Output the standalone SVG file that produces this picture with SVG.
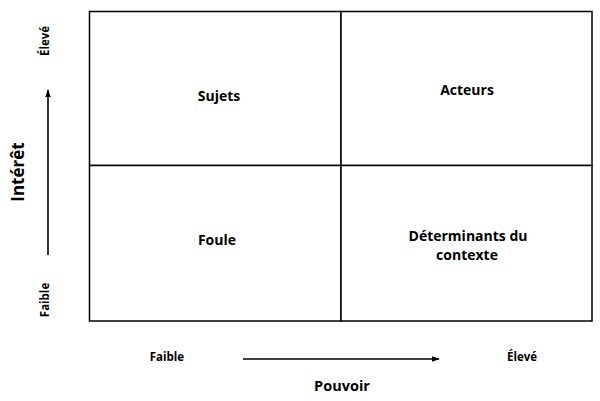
<svg xmlns="http://www.w3.org/2000/svg" width="600" height="401" viewBox="0 0 600 401">
<style>
text{font-family:"Open Sans","Noto Sans","DejaVu Sans",sans-serif;font-weight:bold;fill:#000;text-anchor:middle}
.lbl{font-size:14px}
.ax{font-size:11.5px}
.cell{fill:#fff;stroke:#000;stroke-width:1.5}
.arr{stroke:#000;stroke-width:1.6;fill:none;marker-end:url(#ah)}
</style>
<defs>
<marker id="ah" viewBox="0 0 10 10" refX="9" refY="5" markerWidth="5" markerHeight="5" orient="auto" markerUnits="strokeWidth">
<path d="M0,1.5 L10,5 L0,8.5 Z" fill="#000"/>
</marker>
</defs>
<rect width="600" height="401" fill="#fff"/>
<g id="sujets"><rect class="cell" x="89.5" y="11.5" width="251.5" height="154"/><text class="lbl" x="219" y="101">Sujets</text></g>
<g id="acteurs"><rect class="cell" x="341" y="11.5" width="251" height="154"/><text class="lbl" x="467" y="95">Acteurs</text></g>
<g id="foule"><rect class="cell" x="89.5" y="165.5" width="251.5" height="155.5"/><text class="lbl" x="217" y="245">Foule</text></g>
<g id="determinants"><rect class="cell" x="341" y="165.5" width="251" height="155.5"/><text class="lbl" x="468" y="241"><tspan x="468">Déterminants du</tspan><tspan x="467" dy="19">contexte</tspan></text></g>
<g id="connectors">
<line class="arr" x1="48" y1="255" x2="48" y2="90"/>
<line class="arr" x1="243" y1="359" x2="439" y2="359"/>
</g>
<g id="axes">
<text class="ax" transform="translate(49,41) rotate(-90)">Élevé</text>
<text class="ax" transform="translate(49,300) rotate(-90)">Faible</text>
<text transform="translate(24,172) rotate(-90)" font-size="17">Intérêt</text>
<text class="ax" x="167" y="361">Faible</text>
<text class="ax" x="522" y="361">Élevé</text>
<text x="342" y="391" font-size="14.5">Pouvoir</text>
</g>
</svg>
